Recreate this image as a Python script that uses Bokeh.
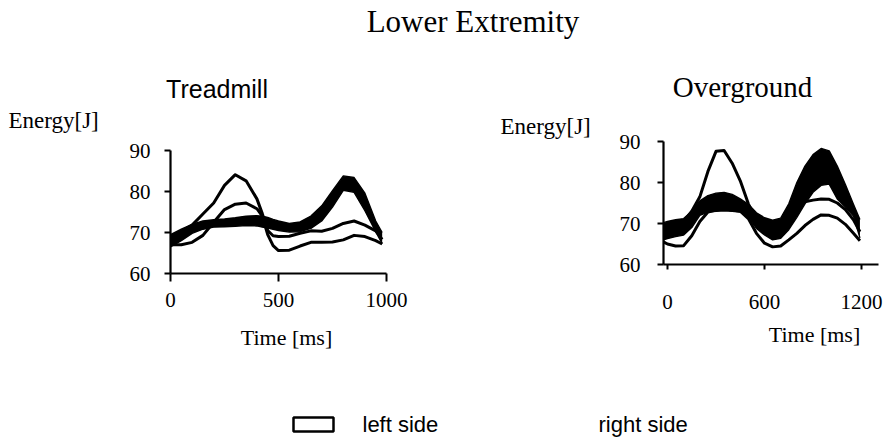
from bokeh.plotting import figure
from bokeh.layouts import column, row
from bokeh.models import Label, FixedTicker, ColumnDataSource
from bokeh.embed import file_html
from bokeh.resources import INLINE

# ---------------- data ----------------
# Treadmill, time in ms, energy in J
tm_time = [0, 50, 100, 150, 200, 250, 300, 350, 400, 425, 450, 475, 500,
           550, 600, 650, 700, 750, 800, 850, 900, 950, 980]
tm_left_upper = [69.0, 70.3, 71.8, 74.5, 77.2, 81.5, 84.1, 82.6, 78.2, 74.6, 70.5, 69.2, 69.0,
                 69.1, 69.8, 70.4, 70.3, 71.0, 72.2, 72.8, 71.8, 70.4, 68.3]
tm_left_lower = [67.0, 67.0, 67.6, 69.3, 72.5, 75.6, 76.9, 77.2, 75.8, 74.0, 69.5, 66.8, 65.6,
                 65.7, 66.7, 67.6, 67.6, 67.7, 68.2, 69.3, 69.0, 68.0, 67.2]
tm_right_upper = [69.5, 70.8, 72.0, 72.8, 73.1, 73.3, 73.6, 74.0, 74.1, 74.0, 73.7, 73.2, 72.8,
                  72.2, 72.6, 74.0, 76.5, 80.2, 83.8, 83.4, 79.6, 72.8, 70.0]
tm_right_lower = [66.5, 68.0, 69.8, 70.8, 71.3, 71.4, 71.5, 71.7, 71.6, 71.3, 71.1, 70.8, 70.5,
                  70.1, 70.2, 71.0, 72.8, 76.2, 80.3, 79.8, 75.3, 70.2, 67.3]

# Overground
og_time = [-25, 0, 50, 100, 150, 200, 250, 300, 350, 400, 450, 500, 550, 600, 650,
           700, 750, 800, 850, 900, 950, 1000, 1050, 1100, 1150, 1190]
og_left_upper = [69.0, 69.2, 69.8, 70.5, 73.0, 76.5, 82.7, 87.6, 87.8, 84.7, 80.4, 74.8, 71.0,
                 68.8, 68.2, 69.8, 73.0, 74.6, 75.3, 75.7, 76.0, 75.9, 75.0, 73.4, 70.9, 68.0]
og_left_lower = [65.5, 65.0, 64.5, 64.6, 67.0, 70.5, 72.8, 73.3, 73.5, 73.3, 73.0, 71.2, 67.6,
                 65.2, 64.3, 64.5, 66.0, 67.6, 69.5, 71.0, 72.1, 72.0, 71.3, 69.8, 67.6, 65.8]
og_right_upper = [70.2, 70.5, 70.9, 71.2, 73.0, 75.5, 76.8, 77.4, 77.6, 77.1, 76.0, 74.7, 72.6,
                  71.4, 70.8, 71.3, 74.8, 80.0, 84.0, 86.8, 88.3, 87.7, 84.0, 79.5, 74.7, 71.0]
og_right_lower = [66.0, 66.3, 66.8, 67.2, 69.0, 72.0, 72.8, 73.0, 73.1, 73.0, 72.8, 71.5, 68.8,
                  67.2, 66.0, 66.4, 68.5, 71.5, 74.8, 77.6, 79.3, 79.6, 76.0, 74.0, 71.8, 66.5]

energy_ticks = [60, 70, 80, 90]
tm_time_ticks = [0, 500, 1000]
og_time_ticks = [0, 600, 1200]

SERIF = "Liberation Serif"
SANS = "Liberation Sans"

PAGE_W = 883
HEAD_H = 104      # title strip
MID_H = 210       # panels row
TIME_H = 46       # x-axis titles strip
LEG_H = 78        # legend strip
MID_Y0 = HEAD_H
TIME_Y0 = HEAD_H + MID_H
LEG_Y0 = TIME_Y0 + TIME_H


def strip(width, height):
    p = figure(width=width, height=height, x_range=(0, width), y_range=(0, height),
               x_axis_location=None, y_axis_location=None, min_border=0,
               output_backend="svg", toolbar_location=None, title=None,
               frame_align=False)
    p.outline_line_color = None
    p.grid.visible = False
    return p


def put(p, x0, y0, h, px, baseline, text, font, size, align="left"):
    # px: picture x of the anchor, baseline: picture y of the text baseline
    mid = baseline - 0.345 * size
    p.add_layout(Label(x=px - x0, y=(y0 + h) - mid, text=text, text_font=font,
                       text_font_size=f"{size}px", text_color="black",
                       text_align=align, text_baseline="middle"))


def make_panel(width, fl, ft, fw, fh, xr, yr):
    p = figure(frame_width=fw, frame_height=fh, x_range=xr, y_range=yr,
               min_border_left=fl, min_border_right=width - fl - fw,
               min_border_top=ft, min_border_bottom=MID_H - ft - fh,
               output_backend="svg", toolbar_location=None, title=None,
               frame_align=False)
    p.outline_line_color = None
    p.grid.visible = False
    p.axis.axis_line_width = 2.2
    p.axis.axis_line_color = "black"
    p.axis.major_tick_line_width = 2
    p.axis.major_tick_line_color = "black"
    p.axis.minor_tick_line_color = None
    p.axis.major_label_text_font = SERIF
    p.axis.major_label_text_color = "black"
    p.axis.major_label_text_font_size = "21px"
    p.yaxis.ticker = FixedTicker(ticks=energy_ticks)
    p.yaxis.major_tick_in = 0
    p.yaxis.major_tick_out = 6
    p.xaxis.major_tick_in = 0
    return p


def draw_bands(p, t, lu, ll, ru, rl):
    src = ColumnDataSource(dict(t=t, lu=lu, ll=ll, ru=ru, rl=rl))
    p.varea(x="t", y1="ll", y2="lu", source=src, fill_color="white")
    p.line("t", "lu", source=src, line_color="black", line_width=3, line_join="round")
    p.line("t", "ll", source=src, line_color="black", line_width=3, line_join="round")
    p.varea(x="t", y1="rl", y2="ru", source=src, fill_color="black")
    p.line("t", "ru", source=src, line_color="black", line_width=1.4, line_join="round")
    p.line("t", "rl", source=src, line_color="black", line_width=1.4, line_join="round")


# ---------------- header strip: title and panel titles ----------------
ph = strip(PAGE_W, HEAD_H)
put(ph, 0, 0, HEAD_H, 472.5, 32, "Lower Extremity", SERIF, 31, "center")
put(ph, 0, 0, HEAD_H, 216.5, 97, "Treadmill", SANS, 25, "center")
put(ph, 0, 0, HEAD_H, 742, 97, "Overground", SERIF, 29, "center")

# ---------------- middle row ----------------
ELW = 125
pel = strip(ELW, MID_H)
put(pel, 0, MID_Y0, MID_H, 8, 128, "Energy[J]", SERIF, 23, "left")

# Treadmill panel
LX0, LW = ELW, 372
pL = make_panel(LW, 45, 46, 216, 123, (0, 1000), (60, 90))
pL.xaxis.ticker = FixedTicker(ticks=tm_time_ticks)
pL.xaxis.major_tick_out = 8
pL.xaxis.major_label_standoff = 11
pL.yaxis.major_label_standoff = 14
draw_bands(pL, tm_time, tm_left_upper, tm_left_lower, tm_right_upper, tm_right_lower)

ERX0 = LX0 + LW   # 497
ERW = 100
per = strip(ERW, MID_H)
put(per, ERX0, MID_Y0, MID_H, 500, 134, "Energy[J]", SERIF, 23, "left")

# Overground panel
RX0 = ERX0 + ERW  # 597
RW = PAGE_W - RX0  # 286
R_SCALE = 0.1617          # pixels per ms
R_FL, R_FW = 66, 215
R_ZERO_PX = 667           # picture x of t = 0
r_x0 = (RX0 + R_FL - R_ZERO_PX) / R_SCALE
pR = make_panel(RW, R_FL, 37, R_FW, 123, (r_x0, r_x0 + R_FW / R_SCALE), (60, 90))
pR.xaxis.ticker = FixedTicker(ticks=og_time_ticks)
pR.xaxis.major_tick_out = 5
pR.xaxis.major_label_standoff = 25
pR.yaxis.major_label_standoff = 17
draw_bands(pR, og_time, og_left_upper, og_left_lower, og_right_upper, og_right_lower)

# ---------------- x-axis titles strip ----------------
ptm = strip(PAGE_W, TIME_H)
put(ptm, 0, TIME_Y0, TIME_H, 286, 345, "Time [ms]", SERIF, 22, "center")
put(ptm, 0, TIME_Y0, TIME_H, 814, 342, "Time [ms]", SERIF, 22, "center")

# ---------------- legend strip ----------------
pg = strip(PAGE_W, LEG_H)
pg.rect(x=[313], y=[(LEG_Y0 + LEG_H) - 424], width=40, height=14,
        fill_color="white", line_color="black", line_width=2.5)
put(pg, 0, LEG_Y0, LEG_H, 362, 432, "left side", SANS, 22, "left")
put(pg, 0, LEG_Y0, LEG_H, 598, 432, "right side", SANS, 22, "left")

layout = column(ph, row(pel, pL, per, pR), ptm, pg)
open("out.html", "w").write(file_html(layout, INLINE))
